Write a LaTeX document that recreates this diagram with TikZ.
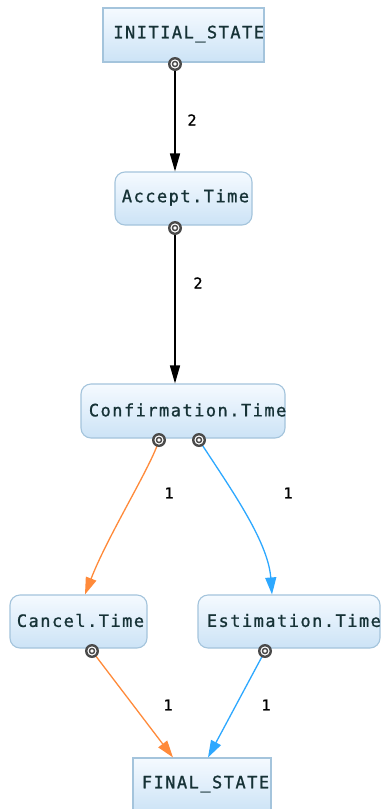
\documentclass[tikz,border=0pt]{standalone}
\usepackage{fontspec}
\newfontfamily\pixfont[FakeBold=1]{DejaVu Sans Mono}
\usetikzlibrary{arrows.meta}
\definecolor{boxtop}{HTML}{F5FAFF}
\definecolor{boxbot}{HTML}{CCE3F6}
\definecolor{boxline}{HTML}{A4C4DC}
\definecolor{txtcol}{HTML}{163236}
\definecolor{orangeedge}{HTML}{FF8A3A}
\definecolor{blueedge}{HTML}{2DA8FF}
\definecolor{portgray}{HTML}{4A4A4A}
\newcommand\pitchtext[1]{\pitchtextA#1\relax}
\def\pitchtextA#1{\ifx#1\relax\else\makebox[11.7pt][c]{#1}\expandafter\pitchtextA\fi}
\tikzset{
  sbox/.style={draw=boxline, line width=1.1pt, top color=boxtop, bottom color=boxbot, inner sep=0pt},
  rbox/.style={sbox, rounded corners=10pt},
  txt/.style={anchor=west, inner sep=0pt, text=txtcol, font=\pixfont\fontsize{17}{17}\selectfont},
  num/.style={inner sep=0pt, font=\pixfont\fontsize{15}{15}\selectfont},
  port/.style={circle, fill=portgray, minimum size=14pt, inner sep=0pt,
    path picture={\fill[white] (path picture bounding box.center) circle (4.6pt);
                  \fill[portgray] (path picture bounding box.center) circle (3.3pt);
                  \fill[white] (path picture bounding box.center) circle (1.8pt);}},
  blackedge/.style={draw=black, line width=1.5pt, -{Triangle[length=18pt,width=10pt]}},
  oedge/.style={draw=orangeedge, line width=1.3pt, -{Triangle[length=17pt,width=11pt]}},
  bedge/.style={draw=blueedge, line width=1.3pt, -{Triangle[length=17pt,width=11pt]}},
}
\begin{document}
\begin{tikzpicture}[x=1pt,y=-1pt]
\useasboundingbox (0,0) rectangle (383,809);
\clip (0,0) rectangle (383,809);
\fill[white] (0,0) rectangle (383,809);
% boxes
\node[sbox, minimum width=161pt, minimum height=54pt] (init) at (183.5,35) {};
\node[rbox, minimum width=137pt, minimum height=53pt] (acc) at (183.5,198.5) {};
\node[rbox, minimum width=204pt, minimum height=54pt] (conf) at (183,411) {};
\node[rbox, minimum width=137pt, minimum height=53pt] (canc) at (78.5,621.5) {};
\node[rbox, minimum width=182pt, minimum height=53pt] (est) at (289,621.5) {};
\node[sbox, minimum width=138pt, minimum height=54pt] (fin) at (202,785) {};
% texts
\begin{scope}
\clip (init.south west) rectangle (init.north east);
\node[txt] (tinit) at ([xshift=10pt,yshift=1pt]init.west) {\pitchtext{INITIAL\_STATE}};
\end{scope}
\begin{scope}
\clip (acc.south west) rectangle (acc.north east);
\node[txt] (tacc) at ([xshift=6.5pt,yshift=1pt]acc.west) {\pitchtext{Accept.Time}};
\end{scope}
\begin{scope}
\clip (conf.south west) rectangle (conf.north east);
\node[txt] (tconf) at ([xshift=7.5pt,yshift=1pt]conf.west) {\pitchtext{Confirmation.Time}};
\end{scope}
\begin{scope}
\clip (canc.south west) rectangle (canc.north east);
\node[txt] (tcanc) at ([xshift=6.5pt,yshift=1pt]canc.west) {\pitchtext{Cancel.Time}};
\end{scope}
\begin{scope}
\clip (est.south west) rectangle (est.north east);
\node[txt] (test) at ([xshift=8.5pt,yshift=1pt]est.west) {\pitchtext{Estimation.Time}};
\end{scope}
\begin{scope}
\clip (fin.south west) rectangle (fin.north east);
\node[txt] (tfin) at ([xshift=8.5pt,yshift=1pt]fin.west) {\pitchtext{FINAL\_STATE}};
\end{scope}
% edges
\coordinate (c1) at (175,64);
\coordinate (c2) at (175,228);
\coordinate (c3) at (159,440);
\coordinate (c4) at (199,440);
\coordinate (c5) at (92,651);
\coordinate (c6) at (265,651);
\draw[blackedge] (c1) -- (c1 |- acc.north);
\draw[blackedge] (c2) -- (c2 |- conf.north);
\draw[oedge] (c3) .. controls (152,465) and (108,535) .. ([xshift=6.5pt]canc.north);
\draw[bedge] (c4) .. controls (228,485) and (268,540) .. ([xshift=-17pt]est.north);
\draw[oedge] (c5) -- ([xshift=-29pt]fin.north);
\draw[bedge] (c6) -- ([xshift=6pt]fin.north);
% ports
\node[port] (p1) at (c1) {};
\node[port] (p2) at (c2) {};
\node[port] (p3) at (c3) {};
\node[port] (p4) at (c4) {};
\node[port] (p5) at (c5) {};
\node[port] (p6) at (c6) {};
% labels
\node[num] (l1) at (192,120) {2};
\node[num] (l2) at (198,283) {2};
\node[num] (l3) at (169,493) {1};
\node[num] (l4) at (288,493) {1};
\node[num] (l5) at (168,705) {1};
\node[num] (l6) at (266,705) {1};
\end{tikzpicture}
\end{document}
